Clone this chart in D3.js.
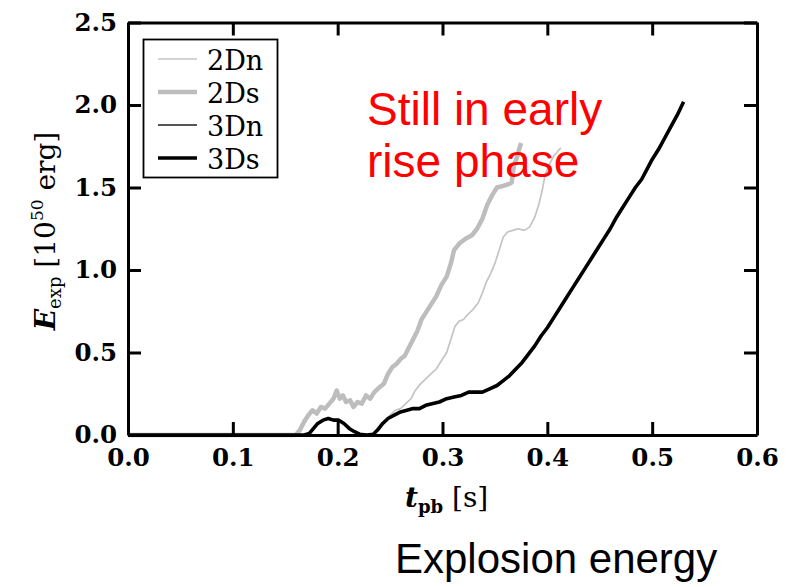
<!DOCTYPE html>
<html><head><meta charset="utf-8">
<script src="https://cdn.jsdelivr.net/npm/d3@7"></script>
<style>body{margin:0;background:#fff}svg{display:block}</style>
</head><body>
<script>
const xTicks = [0.0,0.1,0.2,0.3,0.4,0.5,0.6];
const yTicks = [0.0,0.5,1.0,1.5,2.0,2.5];
const seriesNames = ["2Dn","2Ds","3Dn","3Ds"];
const t2Dn = [0,0.232,0.236,0.241,0.246,0.250,0.255,0.260,0.265,0.270,0.274,0.279,0.284,0.289,0.294,0.299,0.304,0.308,0.312,0.316,0.320,0.324,0.329,0.334,0.338,0.342,0.346,0.350,0.354,0.358,0.362,0.367,0.372,0.378,0.383,0.388,0.392,0.395,0.398,0.402,0.406,0.410,0.413];
const e2Dn = [0,0,0.02,0.06,0.09,0.12,0.15,0.16,0.19,0.22,0.27,0.31,0.34,0.37,0.40,0.45,0.50,0.58,0.66,0.69,0.70,0.73,0.76,0.80,0.86,0.93,0.98,1.04,1.12,1.20,1.23,1.24,1.25,1.24,1.26,1.32,1.40,1.48,1.58,1.64,1.69,1.72,1.74];
const t2Ds = [0,0.160,0.164,0.168,0.172,0.176,0.180,0.184,0.188,0.192,0.196,0.199,0.202,0.205,0.208,0.212,0.215,0.219,0.223,0.227,0.231,0.235,0.240,0.244,0.248,0.252,0.256,0.260,0.264,0.268,0.272,0.276,0.280,0.284,0.289,0.294,0.299,0.304,0.308,0.311,0.316,0.322,0.328,0.333,0.338,0.343,0.348,0.352,0.358,0.363,0.366,0.368,0.371,0.373,0.375];
const e2Ds = [0,0,0.03,0.08,0.12,0.15,0.13,0.17,0.16,0.19,0.22,0.27,0.22,0.24,0.20,0.21,0.17,0.20,0.19,0.24,0.22,0.26,0.29,0.31,0.37,0.41,0.43,0.46,0.48,0.53,0.58,0.63,0.70,0.74,0.79,0.84,0.91,0.96,1.04,1.12,1.16,1.19,1.21,1.25,1.31,1.40,1.46,1.50,1.51,1.52,1.53,1.63,1.68,1.73,1.77];
const t3Dn = [0,0.1,0.2];
const e3Dn = [0,0,0];
const t3Ds = [0,0.168,0.173,0.177,0.181,0.186,0.191,0.196,0.201,0.206,0.211,0.216,0.221,0.228,0.234,0.238,0.243,0.248,0.254,0.260,0.266,0.272,0.278,0.284,0.290,0.297,0.304,0.311,0.318,0.325,0.332,0.338,0.345,0.352,0.358,0.364,0.370,0.376,0.382,0.388,0.394,0.400,0.406,0.412,0.418,0.424,0.430,0.436,0.442,0.448,0.454,0.460,0.466,0.472,0.478,0.484,0.490,0.495,0.500,0.506,0.512,0.518,0.524,0.530];
const e3Ds = [0,0,0.01,0.04,0.07,0.09,0.10,0.09,0.09,0.07,0.04,0.02,0.005,0,0.005,0.03,0.07,0.10,0.12,0.14,0.15,0.16,0.16,0.18,0.19,0.20,0.22,0.23,0.24,0.26,0.26,0.26,0.28,0.30,0.33,0.36,0.40,0.44,0.49,0.54,0.60,0.65,0.71,0.77,0.83,0.89,0.95,1.01,1.07,1.13,1.19,1.25,1.32,1.38,1.44,1.50,1.55,1.61,1.67,1.73,1.80,1.87,1.94,2.02];

const W = 791, H = 587;
const m = {left:128, top:22.5, right:34, bottom:152};
const svg = d3.select("body").append("svg").attr("width",W).attr("height",H);
const x = d3.scaleLinear().domain([0,0.6]).range([m.left, W-m.right]);
const y = d3.scaleLinear().domain([0,2.5]).range([H-m.bottom, m.top]);

const styles = {
  "2Dn": {color:"#c4c4c4", width:1.7},
  "2Ds": {color:"#bdbdbd", width:4.5},
  "3Dn": {color:"#555555", width:2.2},
  "3Ds": {color:"#000000", width:3.6}
};
const series = [
  {name:"2Dn", t:t2Dn, e:e2Dn},
  {name:"2Ds", t:t2Ds, e:e2Ds},
  {name:"3Dn", t:t3Dn, e:e3Dn},
  {name:"3Ds", t:t3Ds, e:e3Ds}
];
const line = d3.line().x(d=>x(d[0])).y(d=>y(d[1]));

const serif = "'DejaVu Serif', serif";
function styleAxis(g, labels){
  g.select(".domain").attr("stroke","#000").attr("stroke-width",3);
  g.selectAll(".tick line").attr("stroke","#000").attr("stroke-width",3);
  g.selectAll(".tick text").attr("fill","#000").attr("font-family",serif)
   .attr("font-weight","bold").attr("font-size",24.5);
  if(!labels) g.selectAll(".tick text").remove();
}
const lineG = svg.append("g");
series.slice(0,3).forEach(s=>{
  lineG.append("path").datum(s.t.map((t,i)=>[t,s.e[i]]))
    .attr("fill","none").attr("stroke",styles[s.name].color)
    .attr("stroke-width",styles[s.name].width)
    .attr("stroke-linejoin","round").attr("d",line);
});

svg.append("g").attr("transform",`translate(0,${y(0)})`)
  .call(d3.axisBottom(x).tickValues(xTicks).tickFormat(d3.format(".1f")).tickSize(-13).tickSizeOuter(0).tickPadding(14))
  .call(g=>styleAxis(g,true));
svg.append("g").attr("transform",`translate(0,${y(2.5)})`)
  .call(d3.axisTop(x).tickValues(xTicks).tickSize(-13).tickSizeOuter(0))
  .call(g=>styleAxis(g,false));
svg.append("g").attr("transform",`translate(${x(0)},0)`)
  .call(d3.axisLeft(y).tickValues(yTicks).tickFormat(d3.format(".1f")).tickSize(-13).tickSizeOuter(0).tickPadding(11))
  .call(g=>styleAxis(g,true));
svg.append("g").attr("transform",`translate(${x(0.6)},0)`)
  .call(d3.axisRight(y).tickValues(yTicks).tickSize(-13).tickSizeOuter(0))
  .call(g=>styleAxis(g,false));

series.slice(3).forEach(s=>{
  svg.append("path").datum(s.t.map((t,i)=>[t,s.e[i]]))
    .attr("fill","none").attr("stroke",styles[s.name].color)
    .attr("stroke-width",styles[s.name].width)
    .attr("stroke-linejoin","round").attr("d",line);
});

// legend
const lg = svg.append("g");
lg.append("rect").attr("x",143.5).attr("y",39.5).attr("width",134).attr("height",138)
  .attr("fill","#fff").attr("stroke","#000").attr("stroke-width",1.8);
seriesNames.forEach((n,i)=>{
  const yy = 59 + i*33;
  lg.append("line").attr("x1",158).attr("x2",197).attr("y1",yy).attr("y2",yy)
    .attr("stroke",styles[n].color).attr("stroke-width",styles[n].width);
  lg.append("text").attr("x",207).attr("y",yy+11).text(n)
    .attr("font-family",serif).attr("font-size",27).attr("fill","#000");
});

// axis titles
const xl = svg.append("text").attr("x",405).attr("y",507)
  .attr("font-family",serif).attr("font-size",28).attr("fill","#000");
xl.append("tspan").text("t").attr("font-style","italic").attr("font-weight","bold");
xl.append("tspan").text("pb").attr("font-size",18).attr("dy",6).attr("font-weight","bold");
xl.append("tspan").text(" [s]").attr("dy",-6);

const yl = svg.append("text").attr("transform","translate(55,231) rotate(-90)")
  .attr("text-anchor","middle").attr("font-family",serif).attr("font-size",28).attr("fill","#000");
yl.append("tspan").text("E").attr("font-style","italic").attr("font-weight","bold");
yl.append("tspan").text("exp").attr("font-size",18).attr("dy",6);
yl.append("tspan").text(" [10").attr("dy",-6);
yl.append("tspan").text("50").attr("font-size",17).attr("dy",-12);
yl.append("tspan").text(" erg]").attr("dy",12);

// annotations
const sans = "'Liberation Sans', Arial, sans-serif";
svg.append("text").attr("x",367).attr("y",125).text("Still in early")
  .attr("font-family",sans).attr("font-size",46).attr("fill","#ff0000");
svg.append("text").attr("x",367).attr("y",177).text("rise phase")
  .attr("font-family",sans).attr("font-size",46).attr("fill","#ff0000");
svg.append("text").attr("x",395).attr("y",573).text("Explosion energy")
  .attr("font-family",sans).attr("font-size",42).attr("fill","#000");
</script>
</body></html>
